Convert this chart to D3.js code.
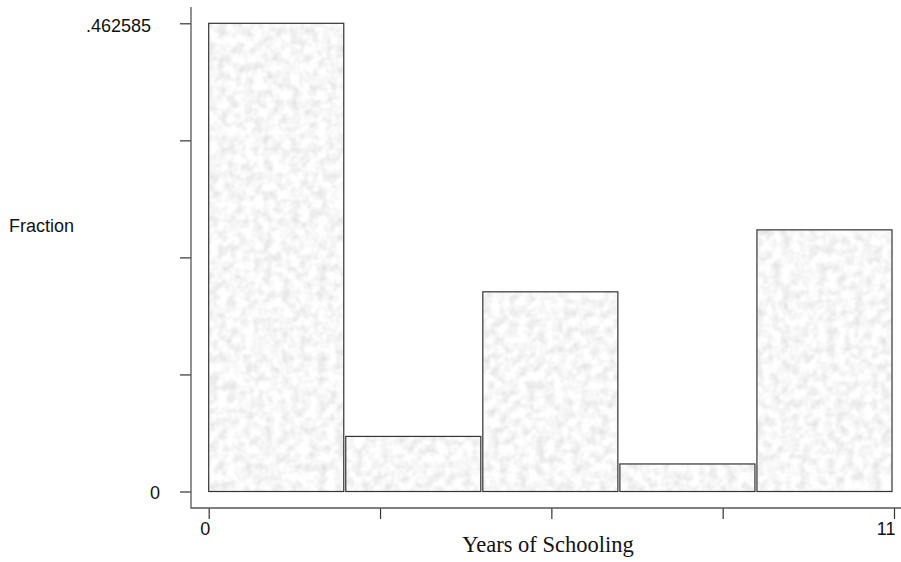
<!DOCTYPE html>
<html>
<head>
<meta charset="utf-8">
<script src="https://cdn.jsdelivr.net/npm/d3@7"></script>
<style>
  body { margin: 0; background: #fff; }
  svg { display: block; }
</style>
</head>
<body>
<div id="chart"></div>
<script>
// bins of years of schooling, fraction of 147 obs
let binEdges = [0, 2.2, 4.4, 6.6, 8.8, 11];
let fractions = [68 / 147, 8 / 147, 29 / 147, 4 / 147, 38 / 147];
let xTickValues = [0, 2.75, 5.5, 8.25, 11];
let xTickLabels = ["0", "", "", "", "11"];
let yMax = 0.462585;
let yTickLabels = ["0", "", "", "", ".462585"];

let width = 901, height = 562;

let svg = d3.select("#chart").append("svg")
    .attr("width", width)
    .attr("height", height);

// grainy grey fill like the original stata shading
let defs = svg.append("defs");
let filt = defs.append("filter")
    .attr("id", "grain")
    .attr("x", 0).attr("y", 0).attr("width", 1).attr("height", 1);
filt.append("feTurbulence")
    .attr("type", "fractalNoise")
    .attr("baseFrequency", 0.11)
    .attr("numOctaves", 2)
    .attr("seed", 4)
    .attr("result", "noise");
filt.append("feColorMatrix")
    .attr("in", "noise")
    .attr("type", "matrix")
    .attr("values", "0.42 0 0 0 0.72  0.42 0 0 0 0.72  0.42 0 0 0 0.72  0 0 0 0 1")
    .attr("result", "grey");
filt.append("feGaussianBlur")
    .attr("in", "grey")
    .attr("stdDeviation", 0.6)
    .attr("result", "soft");
filt.append("feComposite")
    .attr("in", "soft")
    .attr("in2", "SourceGraphic")
    .attr("operator", "in");

let x = d3.scaleLinear().domain([0, 11]).range([208.7, 894]);
let y = d3.scaleLinear().domain([0, yMax]).range([491.5, 23.3]);

let bins = fractions.map(function (f, i) {
    return {x0: binEdges[i], x1: binEdges[i + 1], value: f};
});

let bars = svg.append("g").attr("class", "bars");

bars.selectAll("rect.fill")
    .data(bins)
    .enter().append("rect")
    .attr("class", "fill")
    .attr("x", function (d) { return x(d.x0); })
    .attr("y", function (d) { return y(d.value); })
    .attr("width", function (d) { return x(d.x1) - x(d.x0) - 2; })
    .attr("height", function (d) { return y(0) - y(d.value); })
    .attr("fill", "#ececec")
    .attr("filter", "url(#grain)");

bars.selectAll("rect.edge")
    .data(bins)
    .enter().append("rect")
    .attr("class", "edge")
    .attr("x", function (d) { return x(d.x0); })
    .attr("y", function (d) { return y(d.value); })
    .attr("width", function (d) { return x(d.x1) - x(d.x0) - 2; })
    .attr("height", function (d) { return y(0) - y(d.value); })
    .attr("fill", "none")
    .attr("stroke", "#333")
    .attr("stroke-width", 1.2);

// y axis
let yAxis = d3.axisLeft(y)
    .tickValues([0, yMax / 4, yMax / 2, 3 * yMax / 4, yMax])
    .tickSize(11)
    .tickPadding(31)
    .tickFormat(function (d, i) { return yTickLabels[i]; });

let gy = svg.append("g")
    .attr("transform", "translate(191,0)")
    .call(yAxis);
gy.select(".domain").remove();
gy.append("line")
    .attr("x1", 0).attr("x2", 0)
    .attr("y1", 7).attr("y2", 508.5)
    .attr("stroke", "#555").attr("stroke-width", 1.3);
gy.selectAll(".tick line").attr("stroke", "#333").attr("stroke-width", 1.2);
gy.selectAll(".tick text")
    .attr("font-family", "'Liberation Sans', Arial, sans-serif")
    .attr("font-size", 18)
    .attr("fill", "#111")
    .attr("dx", function (d, i) { return i === 0 ? 11 : 2; })
    .attr("dy", function (d, i) { return i === 0 ? "0.4em" : "0.45em"; });

// x axis
let xAxis = d3.axisBottom(x)
    .tickValues(xTickValues)
    .tickSize(11)
    .tickPadding(3)
    .tickFormat(function (d, i) { return xTickLabels[i]; });

let gx = svg.append("g")
    .attr("transform", "translate(0,508)")
    .call(xAxis);
gx.select(".domain").remove();
gx.append("line")
    .attr("x1", 191).attr("x2", 901)
    .attr("y1", 0).attr("y2", 0)
    .attr("stroke", "#555").attr("stroke-width", 1.3);
gx.selectAll(".tick line").attr("stroke", "#333").attr("stroke-width", 1.2);
gx.selectAll(".tick text")
    .attr("font-family", "'Liberation Sans', Arial, sans-serif")
    .attr("font-size", 18)
    .attr("fill", "#111")
    .attr("text-anchor", "end")
    .attr("dx", 1);

// axis titles
svg.append("text")
    .attr("x", 9)
    .attr("y", 231.5)
    .attr("font-family", "'Liberation Sans', Arial, sans-serif")
    .attr("font-size", 18)
    .attr("fill", "#111")
    .text("Fraction");

svg.append("text")
    .attr("x", 548)
    .attr("y", 551.5)
    .attr("text-anchor", "middle")
    .attr("font-family", "'Liberation Serif', 'Times New Roman', serif")
    .attr("font-size", 22.5)
    .attr("fill", "#111")
    .text("Years of Schooling");
</script>
</body>
</html>
